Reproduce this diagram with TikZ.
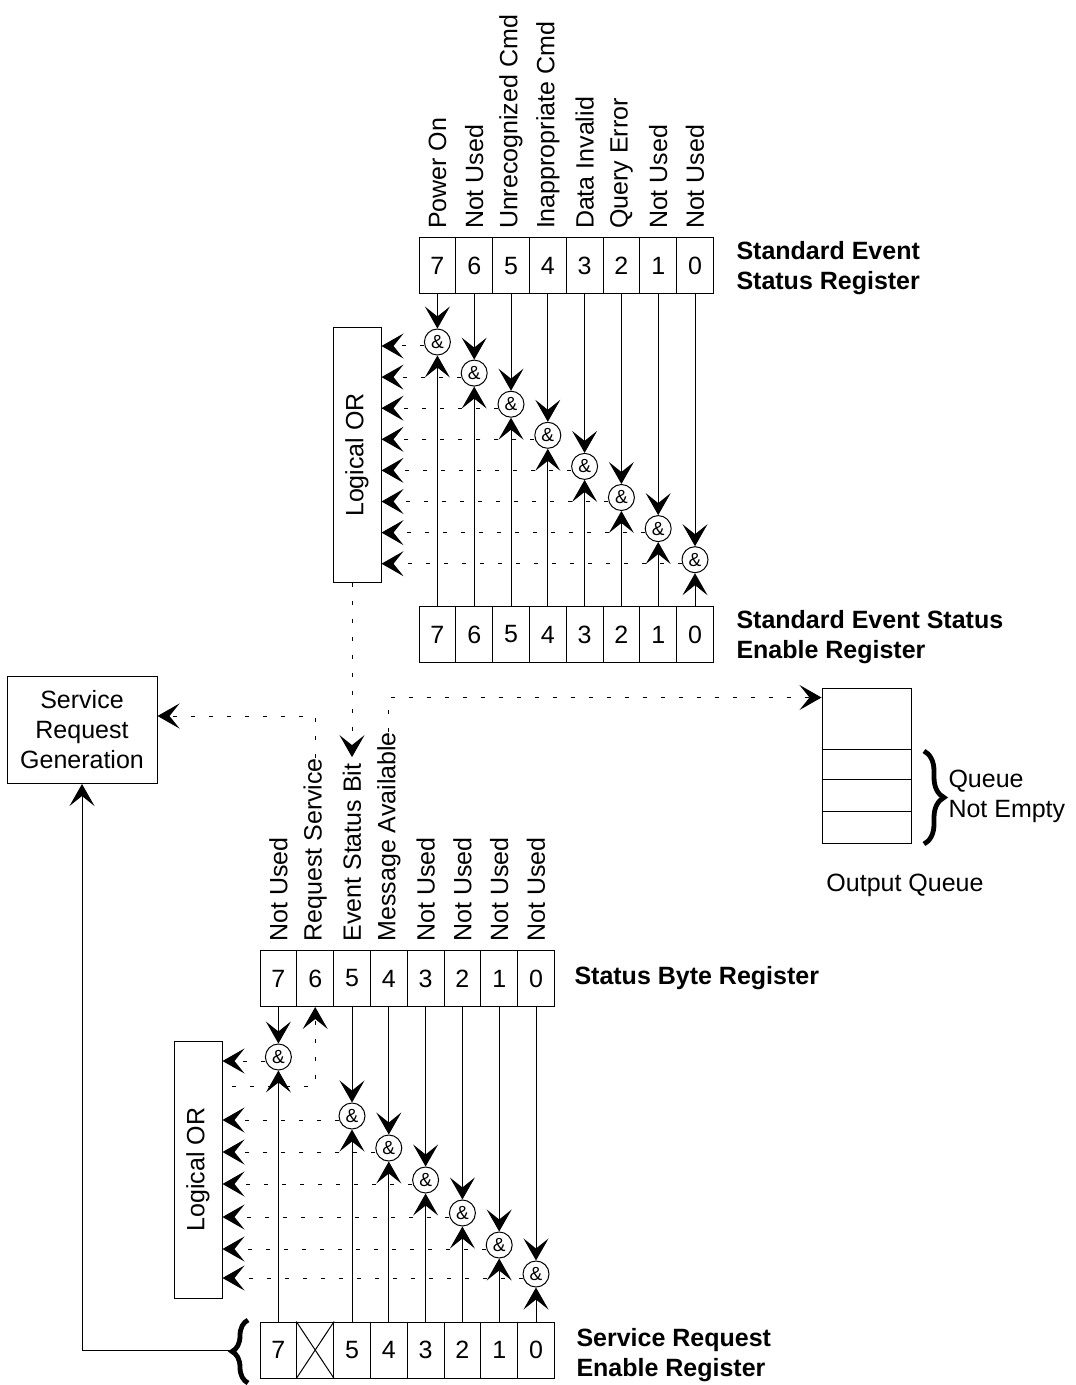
\documentclass[tikz,border=0pt]{standalone}
\usepackage{fontspec}
\setmainfont{Liberation Sans}
\usepackage{tikz}
\usetikzlibrary{calc, positioning, arrows.meta, decorations.pathreplacing}

\begin{document}
\begin{tikzpicture}[x=0.5pt, y=-0.5pt, >={Stealth[length=11pt, width=12.5pt, inset=5pt]},
    font=\fontsize{12.5}{15}\selectfont, line width=0.5pt,
    cell/.style={draw, minimum width=18.4pt, minimum height=28pt, inner sep=0},
    gate/.style={draw, circle, minimum size=13pt, inner sep=0, font=\fontsize{9.5}{10}\selectfont},
    orbox/.style={draw, minimum width=24pt},
    bitlbl/.style={rotate=90, anchor=west, inner sep=0},
    regname/.style={anchor=west, align=left, inner sep=0, font=\fontsize{12.5}{15}\selectfont\bfseries},
    dotline/.style={dash pattern=on 2pt off 7pt},
    bigbrace/.style={decorate, decoration={brace, amplitude=#1}, line width=2.4pt}]
  \useasboundingbox (0,0) rectangle (1075,1385);

  % Standard event status register and its enable register
  \foreach \b [count=\i from 0] in {7,...,0} {
    \node[cell] (se\b) at (437.4+36.8*\i, 266) {\b};
    \node[cell] (en\b) at (437.4+36.8*\i, 634.5) {\b};
  }
  \foreach \b/\txt in {7/Power On, 6/Not Used, 5/Unrecognized Cmd, 4/Inappropriate Cmd,
      3/Data Invalid, 2/Query Error, 1/Not Used, 0/Not Used}
    \node[bitlbl] (la\b) at ([yshift=4pt]se\b.north) {\txt};
  \node[regname] (sename) at (736, 268) {Standard Event\\Status Register};
  \node[regname] (enname) at (736, 637) {Standard Event Status\\Enable Register};

  \node[orbox, minimum height=127pt] (or1) at (357, 455) {};
  \node[rotate=90] (orl1) at (or1) {Logical OR};

  % And gates, top
  \foreach \b [count=\i from 0] in {7,...,0} {
    \node[gate] (ga\b) at (437.4+36.8*\i, 342+31.1*\i) {\&};
    \draw[->] (se\b.south) -- (ga\b.north);
    \draw[->] (en\b.north) -- (ga\b.south);
    \draw[dotline, ->] ([yshift=-2pt]ga\b.west) -- ([yshift=-2pt]or1.east |- ga\b.west);
  }

  % Status byte register and service request enable register
  \foreach \b [count=\i from 0] in {7,...,0} {
    \node[cell] (sb\b) at (278.4+36.8*\i, 978.5) {\b};
    \node[cell] (sr\b) at (278.4+36.8*\i, 1350) {\ifnum\b=6 \else\b\fi};
  }
  \draw (sr6.north west) -- (sr6.south east) (sr6.north east) -- (sr6.south west);
  \foreach \b/\txt in {7/Not Used, 6/Request Service, 5/Event Status Bit, 4/Message Available,
      3/Not Used, 2/Not Used, 1/Not Used, 0/Not Used}
    \node[bitlbl] (lb\b) at ([yshift=4pt]sb\b.north) {\txt};
  \node[regname] (sbname) at (574, 978) {Status Byte Register};
  \node[regname] (srname) at (576, 1355) {Service Request\\Enable Register};

  \node[orbox, minimum height=128.5pt] (or2) at (198, 1169.5) {};
  \node[rotate=90] (orl2) at (or2) {Logical OR};

  % And gates, bottom
  \foreach \b/\y in {7/1057, 5/1116, 4/1148, 3/1180, 2/1213, 1/1245, 0/1274} {
    \node[gate] (gb\b) at (sb\b |- 0,\y) {\&};
    \draw[->] (sb\b.south) -- (gb\b.north);
    \draw[->] (sr\b.north) -- (gb\b.south);
    \draw[dotline, ->] ([yshift=-2pt]gb\b.west) -- ([yshift=-2pt]or2.east |- gb\b.west);
  }
  \coordinate (rqs) at (232, 1086);
  \draw[dotline, ->] (rqs) -| (sb6.south);

  % Service request generation
  \node[draw, align=center, minimum width=75pt, minimum height=53.5pt] (srg) at (82, 730)
    {Service\\Request\\Generation};
  \draw[bigbrace=8pt] (248, 1383) -- (248, 1320);
  \coordinate (brtip) at (231, 1350);
  \draw[->] (brtip) -| (srg.south);

  % Output queue
  \node[draw, minimum width=44.5pt, minimum height=77.5pt] (oq) at (866.5, 765.5) {};
  \foreach \y in {749, 779, 811}
    \draw (oq.west |- 0,\y) -- (oq.east |- 0,\y);
  \draw[bigbrace=10pt] (924, 751) -- (924, 844);
  \node[anchor=west, align=left, inner sep=0] (qne) at (948, 796) {Queue\\Not Empty};
  \node (oql) at (905, 885) {Output Queue};

  % Summary links
  \draw[dotline, ->] (lb5.east |- or1.south) -- ([yshift=3pt]lb5.east);
  \coordinate (srin) at ([yshift=7pt]srg.east);
  \draw[dotline, ->] (lb6.east) |- (srin);
  \coordinate (qin) at ([yshift=-5pt]oq.north west);
  \draw[dotline, ->] (lb4.east) |- (qin);
\end{tikzpicture}
\end{document}
